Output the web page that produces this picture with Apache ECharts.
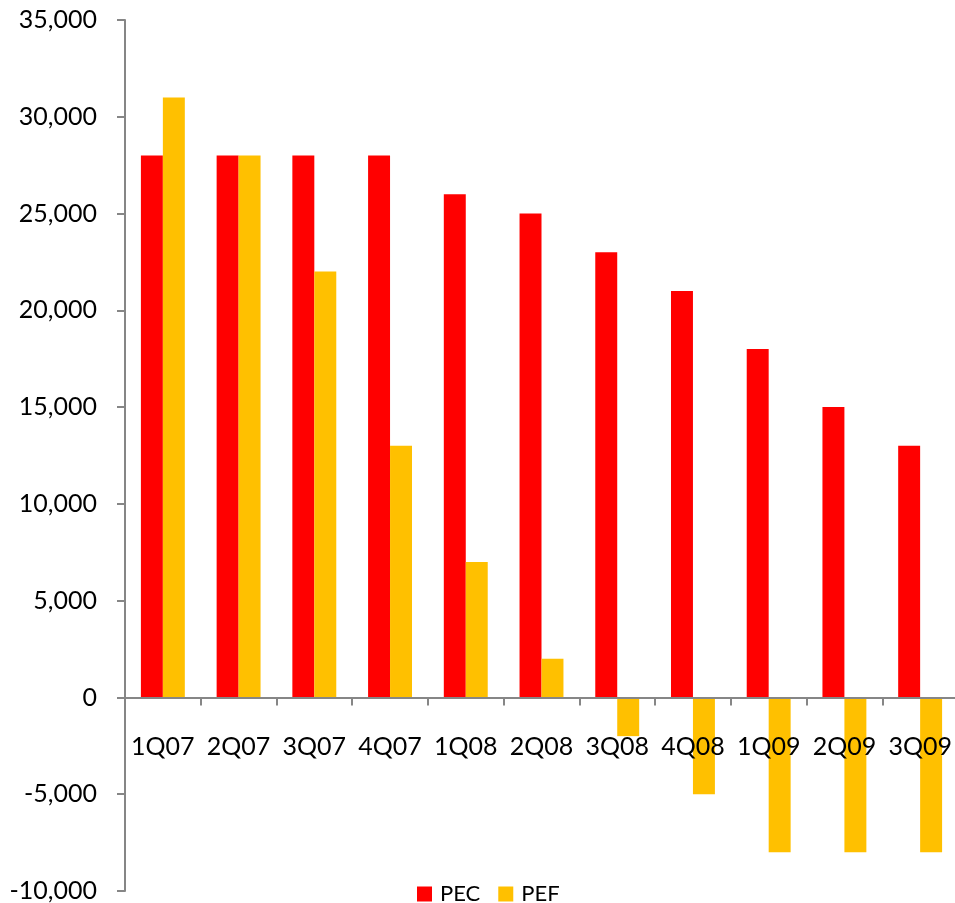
<!DOCTYPE html>
<html>
<head>
<meta charset="utf-8">
<script src="https://cdn.jsdelivr.net/npm/echarts@6/dist/echarts.min.js"></script>
<style>
html,body{margin:0;padding:0;background:#fff;}
#main{width:955px;height:903px;}
</style>
</head>
<body>
<div id="main"></div>
<script>
const categories = ['1Q07','2Q07','3Q07','4Q07','1Q08','2Q08','3Q08','4Q08','1Q09','2Q09','3Q09'];
const pecValues = [28000,28000,28000,28000,26000,25000,23000,21000,18000,15000,13000];
const pefValues = [31000,28000,22000,13000,7000,2000,-2000,-5000,-8000,-8000,-8000];
const seriesNames = ['PEC','PEF'];

const FONT = 'Lato, "Open Sans", sans-serif';
const chart = echarts.init(document.getElementById('main'), null, {renderer:'canvas'});
chart.setOption({
  animation:false,
  backgroundColor:'#ffffff',
  textStyle:{fontFamily:FONT},
  legend:{
    data:seriesNames,
    bottom:-7,
    left:412,
    itemWidth:15,
    itemHeight:15,
    itemGap:18,
    icon:'rect',
    textStyle:{fontSize:22,color:'#000',fontFamily:FONT,padding:[0,0,0,3]}
  },
  grid:{left:125,top:20,width:833,height:871,containLabel:false,outerBoundsMode:'none'},
  xAxis:{
    type:'category',
    data:categories,
    z:10,
    axisLine:{onZero:true,lineStyle:{color:'#868686',width:2}},
    axisTick:{show:true,length:8,lineStyle:{color:'#868686',width:2},alignWithLabel:false},
    axisLabel:{color:'#000',fontSize:25,margin:-157,fontFamily:FONT,interval:0},
    splitLine:{show:false}
  },
  yAxis:{
    type:'value',
    min:-10000,
    max:35000,
    interval:5000,
    axisLine:{show:true,lineStyle:{color:'#868686',width:2}},
    axisTick:{show:true,length:8,lineStyle:{color:'#868686',width:2}},
    axisLabel:{color:'#000',fontSize:25,margin:28,fontFamily:FONT,
      formatter:function(v){return v.toLocaleString('en-US');}},
    splitLine:{show:false}
  },
  series:[
    {name:seriesNames[0],type:'bar',data:pecValues,itemStyle:{color:'#ff0000'},barGap:'0%',barCategoryGap:'42%'},
    {name:seriesNames[1],type:'bar',data:pefValues,itemStyle:{color:'#ffc000'},barGap:'0%',barCategoryGap:'42%'}
  ]
});
</script>
</body>
</html>
